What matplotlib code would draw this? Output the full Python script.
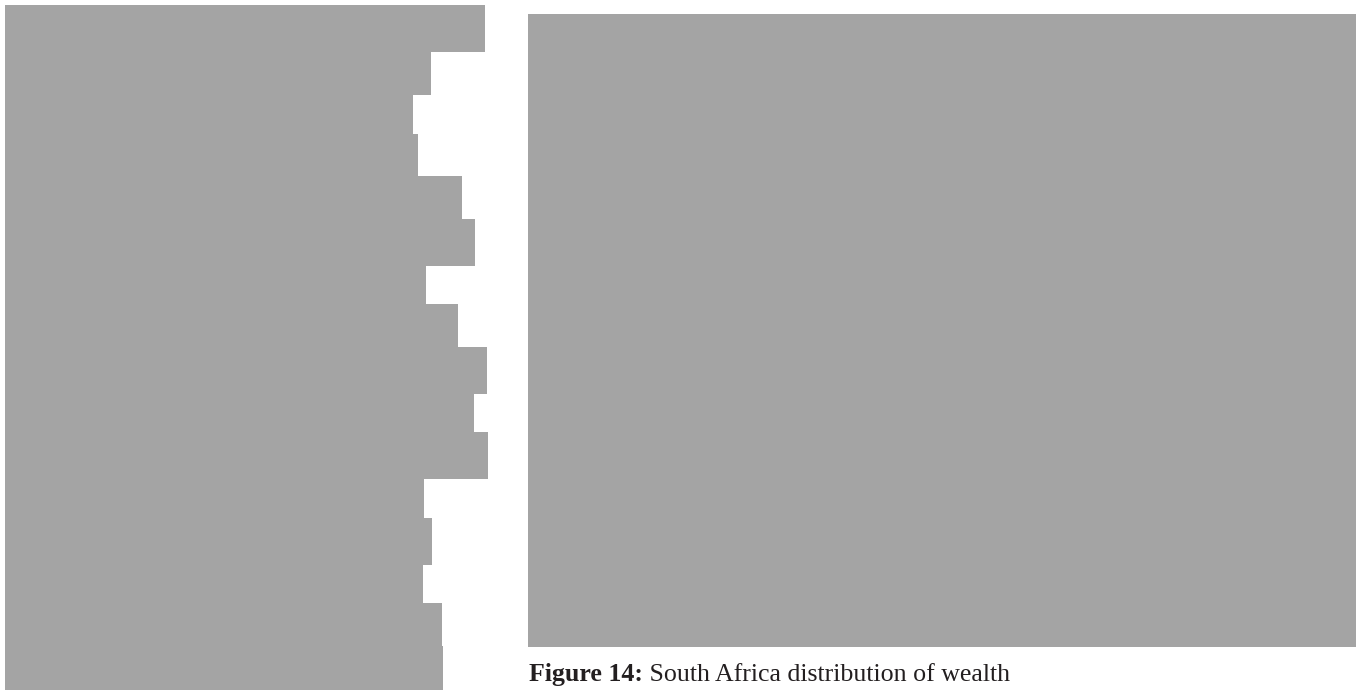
import matplotlib
matplotlib.use("Agg")
import matplotlib.pyplot as plt

# Data: left stack of bars (row heights and bar lengths, in px units of the panel)
row_heights = [47, 43, 39, 42, 43, 47, 38, 43, 47, 38, 47, 39, 47, 38, 43, 44]
bar_lengths = [480, 426, 408, 413, 457, 470, 421, 453, 482, 469, 483, 419, 427, 418, 437, 438]
caption_bold = "Figure 14:"
caption_rest = " South Africa distribution of wealth"

GRAY = "#a4a4a4"
W, H = 1356, 690
fig = plt.figure(figsize=(W / 100, H / 100), dpi=100)
fig.patch.set_facecolor("white")

# Left panel: stacked horizontal bars
axl = fig.add_axes([0, 0, 500 / W, 1])
axl.set_xlim(0, 500)
axl.set_ylim(H, 0)
axl.axis("off")
top = 5
for h, L in zip(row_heights, bar_lengths):
    axl.barh(top + h / 2, L, height=h, left=5, color=GRAY, linewidth=0)
    top += h

# Right panel: large gray block
axr = fig.add_axes([528 / W, (H - 647) / H, (W - 528) / W, (647 - 14) / H])
axr.set_facecolor(GRAY)
axr.set_xticks([])
axr.set_yticks([])
for s in axr.spines.values():
    s.set_visible(False)

# Caption
fam = ["Liberation Serif", "DejaVu Serif"]
fs = 18.6
t1 = fig.text(529 / W, (H - 681) / H, caption_bold, fontsize=fs, fontweight="bold",
              family=fam, color="#231f20", va="baseline", ha="left")
fig.canvas.draw()
bb = t1.get_window_extent(renderer=fig.canvas.get_renderer())
fig.text(bb.x1 / W, (H - 681) / H, caption_rest, fontsize=fs, family=fam,
         color="#231f20", va="baseline", ha="left")

fig.savefig("out.png", dpi=100, facecolor="white")
